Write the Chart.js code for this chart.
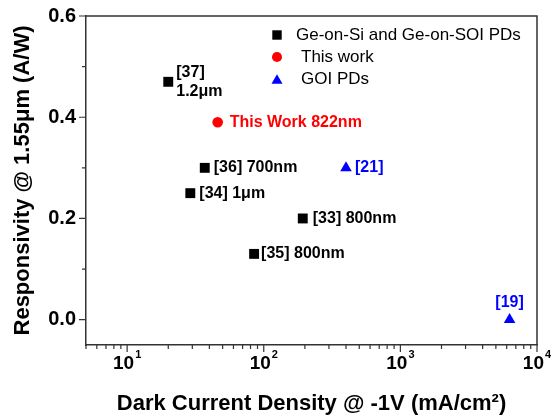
<!DOCTYPE html>
<html>
<head>
<meta charset="utf-8">
<script src="https://cdn.jsdelivr.net/npm/chart.js@4.4.0/dist/chart.umd.min.js"></script>
<style>
html,body{margin:0;padding:0;background:#fff;}
#wrap{width:551px;height:420px;}
</style>
</head>
<body>
<div id="wrap"><canvas id="c" width="551" height="420"></canvas></div>
<script>
// ---- data ----
const geX = [20, 37, 29, 193, 85];
const geY = [0.47, 0.30, 0.25, 0.20, 0.13];
const geLabels = [['[37]', '1.2μm'], ['[36] 700nm'], ['[34] 1μm'], ['[33] 800nm'], ['[35] 800nm']];

const thisX = [46];
const thisY = [0.39];
const thisLabels = [['This Work 822nm']];

const goiX = [400, 6300];
const goiY = [0.30, 0.00];
const goiLabels = [['[21]'], ['[19]']];

const seriesNames = ['Ge-on-Si and Ge-on-SOI PDs', 'This work', 'GOI PDs'];
const xTickValues = [5,6,7,8,9,10,20,30,40,50,60,70,80,90,100,200,300,400,500,600,700,800,900,1000,2000,3000,4000,5000,6000,7000,8000,9000,10000];
// tick label = base + superscript exponent
const xTickLabels = {10:['10','1'], 100:['10','2'], 1000:['10','3'], 10000:['10','4']};
const yTickValues = [0, 0.1, 0.2, 0.3, 0.4, 0.5, 0.6];
const yTickLabels = {0:'0.0', 0.2:'0.2', 0.4:'0.4', 0.6:'0.6'};

// ---- styles ----
const FONT = '"Liberation Sans", Arial, sans-serif';
const AXIS = '#333333';
const RED = '#ff0000';
const BLUE = '#0000ff';

function pts(xs, ys){ return xs.map((x,i)=>({x:x, y:ys[i]})); }

// label offsets (style only)
const geOffsets = [[8,-9],[9,0],[9,0],[10,0],[7,0]];
const thisOffsets = [[12,0]];
const goiOffsets = [[9,0],['c',-17]];

const labelPlugin = {
  id:'pointLabels',
  afterDatasetsDraw(chart){
    const ctx = chart.ctx;
    chart.data.datasets.forEach((ds, di)=>{
      const meta = chart.getDatasetMeta(di);
      ctx.save();
      ctx.font = 'bold 16px ' + FONT;
      ctx.fillStyle = ds.labelColor;
      ctx.textBaseline = 'middle';
      meta.data.forEach((el, i)=>{
        const lines = ds.pointLabels[i];
        const off = ds.labelOffsets[i];
        let x, align;
        if (off[0] === 'c') { x = el.x; align = 'center'; } else { x = el.x + off[0]; align = 'left'; }
        ctx.textAlign = align;
        lines.forEach((t, li)=>{
          ctx.fillText(t, x, el.y + off[1] + li*18.5);
        });
      });
      ctx.restore();
    });
  }
};

function drawMarker(ctx, style, x, y, r, color){
  ctx.fillStyle = color;
  ctx.beginPath();
  if (style === 'rect') {
    const s = r*Math.SQRT1_2;
    ctx.rect(x-s, y-s, 2*s, 2*s);
  } else if (style === 'circle') {
    ctx.arc(x, y, r, 0, Math.PI*2);
  } else {
    ctx.moveTo(x, y - r);
    ctx.lineTo(x + r*Math.sin(Math.PI/3), y + r/2);
    ctx.lineTo(x - r*Math.sin(Math.PI/3), y + r/2);
    ctx.closePath();
  }
  ctx.fill();
}

const legendPlugin = {
  id:'insideLegend',
  afterDraw(chart){
    const ctx = chart.ctx;
    const items = [[277,35,296],[277,57,301],[277,79,301]];
    ctx.save();
    ctx.font = '17px ' + FONT;
    ctx.textBaseline = 'middle';
    ctx.textAlign = 'left';
    chart.data.datasets.forEach((ds, i)=>{
      const it = items[i];
      drawMarker(ctx, ds.pointStyle, it[0], it[1] + (ds.pointStyle==='triangle'?1.5:0), ds.pointRadius*0.95, ds.backgroundColor);
      ctx.fillStyle = '#000';
      ctx.fillText(ds.label, it[2], it[1]);
    });
    ctx.restore();
  }
};

const frameTicksPlugin = {
  id:'frameTicks',
  afterDraw(chart){
    const ctx = chart.ctx;
    const a = chart.chartArea;
    ctx.save();
    ctx.strokeStyle = AXIS;
    ctx.lineWidth = 1.5;
    ctx.beginPath();
    ctx.moveTo(a.left, a.top); ctx.lineTo(a.right, a.top); ctx.lineTo(a.right, a.bottom);
    ctx.stroke();
    ctx.lineWidth = 1.2;
    const xs = chart.scales.x, ys = chart.scales.y;
    ctx.beginPath();
    xs.ticks.forEach(t=>{
      const px = xs.getPixelForValue(t.value);
      const len = xTickLabels[t.value] ? 7 : 4;
      ctx.moveTo(px, a.bottom); ctx.lineTo(px, a.bottom + len);
    });
    ys.ticks.forEach(t=>{
      const py = ys.getPixelForValue(t.value);
      const len = yTickLabels[Math.round(t.value*10)/10] !== undefined ? 7 : 4;
      ctx.moveTo(a.left, py); ctx.lineTo(a.left - len, py);
    });
    ctx.stroke();
    // x tick labels with superscript exponents
    ctx.fillStyle = '#000';
    ctx.textBaseline = 'alphabetic';
    ctx.textAlign = 'left';
    xs.ticks.forEach(t=>{
      const lab = xTickLabels[t.value];
      if (!lab) return;
      const px = xs.getPixelForValue(t.value);
      ctx.font = 'bold 19px ' + FONT;
      const wb = ctx.measureText(lab[0]).width;
      ctx.font = 'bold 11px ' + FONT;
      const we = ctx.measureText(lab[1]).width;
      const start = px - (wb + 1 + we)/2;
      ctx.font = 'bold 19px ' + FONT;
      ctx.fillText(lab[0], start, a.bottom + 24);
      ctx.font = 'bold 11px ' + FONT;
      ctx.fillText(lab[1], start + wb + 1, a.bottom + 13);
    });
    ctx.restore();
  }
};

new Chart(document.getElementById('c'), {
  type:'scatter',
  data:{
    datasets:[
      {label:seriesNames[0], data:pts(geX, geY), pointStyle:'rect', pointRadius:7, pointHoverRadius:7,
       backgroundColor:'#000', borderColor:'#000', borderWidth:0,
       pointLabels:geLabels, labelOffsets:geOffsets, labelColor:'#000'},
      {label:seriesNames[1], data:pts(thisX, thisY), pointStyle:'circle', pointRadius:5.3, pointHoverRadius:5.3,
       backgroundColor:RED, borderColor:RED, borderWidth:0,
       pointLabels:thisLabels, labelOffsets:thisOffsets, labelColor:RED},
      {label:seriesNames[2], data:pts(goiX, goiY), pointStyle:'triangle', pointRadius:6.7, pointHoverRadius:6.7,
       backgroundColor:BLUE, borderColor:BLUE, borderWidth:0,
       pointLabels:goiLabels, labelOffsets:goiOffsets, labelColor:BLUE}
    ]
  },
  options:{
    responsive:false,
    animation:false,
    layout:{padding:{top:16, right:14, left:0, bottom:0}},
    plugins:{legend:{display:false}, tooltip:{enabled:false}},
    scales:{
      x:{
        type:'logarithmic', min:5, max:10000,
        afterBuildTicks(scale){ scale.ticks = xTickValues.map(v=>({value:v})); },
        afterFit(scale){ scale.height = 75; },
        grid:{drawOnChartArea:false, drawTicks:true, tickLength:7, color:'rgba(0,0,0,0)'},
        border:{display:true, color:AXIS, width:1.5},
        ticks:{autoSkip:false, maxRotation:0, padding:3, color:'#000',
          font:{family:FONT, size:19, weight:'bold'},
          callback:()=> ''},
        title:{display:true, text:'Dark Current Density @ -1V (mA/cm²)', color:'#000',
          font:{family:FONT, size:22, weight:'bold'}, padding:{top:0, bottom:3}}
      },
      y:{
        type:'linear', min:-0.05, max:0.6,
        afterBuildTicks(scale){ scale.ticks = yTickValues.map(v=>({value:v})); },
        afterFit(scale){ scale.width = 86; },
        grid:{drawOnChartArea:false, drawTicks:true, tickLength:7, color:'rgba(0,0,0,0)'},
        border:{display:true, color:AXIS, width:1.5},
        ticks:{autoSkip:false, padding:3, color:'#000',
          font:{family:FONT, size:20, weight:'bold'},
          callback:(v)=> { const k = Math.round(v*10)/10; return yTickLabels[k] !== undefined ? yTickLabels[k] : ''; }},
        title:{display:true, text:'Responsivity @ 1.55μm (A/W)', color:'#000',
          font:{family:FONT, size:22, weight:'bold'}, padding:{top:10, bottom:0}}
      }
    }
  },
  plugins:[labelPlugin, legendPlugin, frameTicksPlugin]
});
</script>
</body>
</html>
